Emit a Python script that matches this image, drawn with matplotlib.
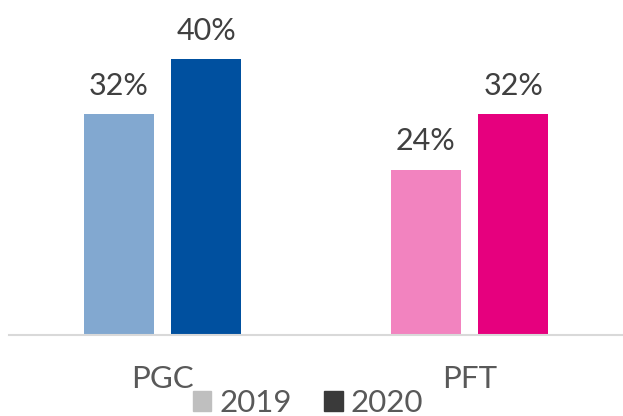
import numpy as np
import matplotlib.pyplot as plt
from matplotlib.patches import Patch

# --- DATA ---
categories = ["PGC", "PFT"]
years = ["2019", "2020"]
values_2019 = [32, 24]
values_2020 = [40, 32]

colors_2019 = ["#82A8D0", "#F283BF"]
colors_2020 = ["#00509F", "#E6007E"]
legend_colors = ["#BFBFBF", "#3A3A3A"]

plt.rcParams['font.family'] = ['Lato', 'DejaVu Sans']

fig = plt.figure(figsize=(6.23, 4.16), dpi=100)
ax = fig.add_axes([9 / 623, 81 / 416, 614 / 623, 331 / 416])

x = np.arange(len(categories))
w = 0.227
off = 0.1426

b1 = ax.bar(x - off, values_2019, width=w, color=colors_2019)
b2 = ax.bar(x + off, values_2020, width=w, color=colors_2020)

# value labels above the bars
for bars, vals in [(b1, values_2019), (b2, values_2020)]:
    for rect, v in zip(bars, vals):
        ax.annotate(f"{v}%", (rect.get_x() + rect.get_width() / 2, v),
                    xytext=(0, 14), textcoords="offset points",
                    ha="center", va="baseline", fontsize=22, color="#404040")

# category names under the axis
for i, c in enumerate(categories):
    ax.annotate(c, (i, 0), xycoords=("data", "axes fraction"),
                xytext=(0, -38), textcoords="offset points",
                ha="center", va="baseline", fontsize=22.5, color="#595959")

ax.set_xlim(-0.5, 1.5)
ax.set_ylim(0, 48)
ax.set_xticks([])
ax.set_yticks([])
for s in ["top", "right", "left"]:
    ax.spines[s].set_visible(False)
ax.spines["bottom"].set_color("#D9D9D9")
ax.spines["bottom"].set_linewidth(1.5)

handles = [Patch(color=c, label=y) for c, y in zip(legend_colors, years)]
fig.legend(handles=handles, loc="lower center", bbox_to_anchor=(308 / 623, -1 / 416),
           ncol=2, frameon=False, fontsize=22.5, labelcolor="#595959",
           handlelength=0.58, handleheight=0.58, handletextpad=0.25,
           columnspacing=1.05, borderpad=0, borderaxespad=0)

fig.savefig("out.png", dpi=100)
